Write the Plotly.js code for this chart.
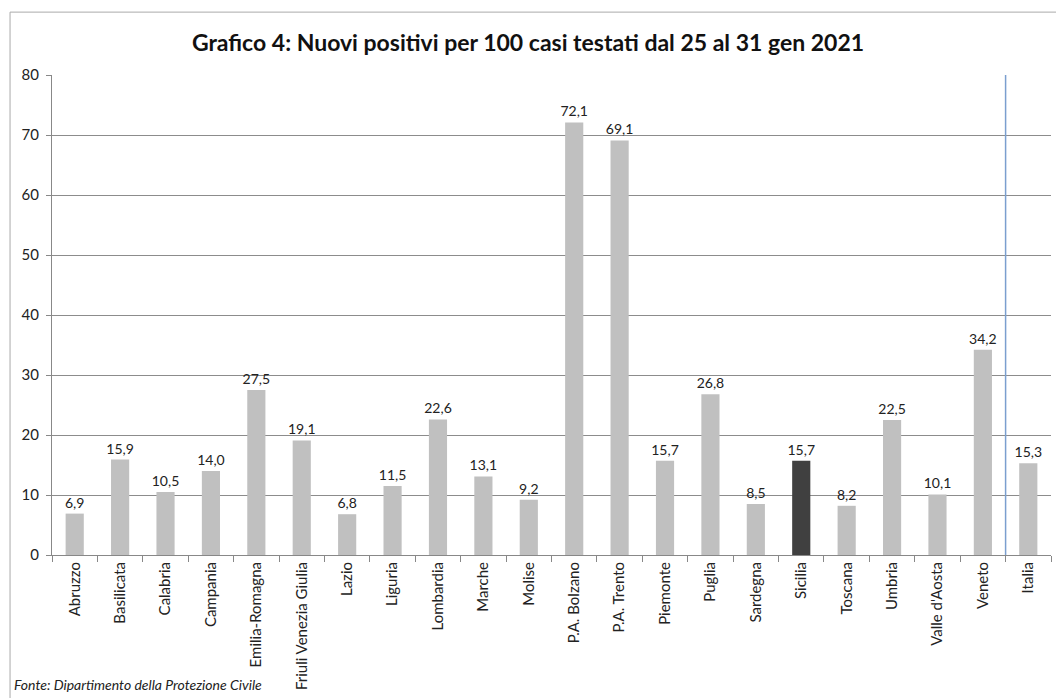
<!DOCTYPE html>
<html><head><meta charset="utf-8">
<script src="https://cdn.plot.ly/plotly-3.0.1.min.js"></script>
<style>html,body{margin:0;padding:0;background:#fff}#c{width:1056px;height:698px}</style>
</head><body><div id="c"></div>
<script>
const regions = ["Abruzzo","Basilicata","Calabria","Campania","Emilia-Romagna","Friuli Venezia Giulia","Lazio","Liguria","Lombardia","Marche","Molise","P.A. Bolzano","P.A. Trento","Piemonte","Puglia","Sardegna","Sicilia","Toscana","Umbria","Valle d'Aosta","Veneto","Italia"];
const values = [6.9,15.9,10.5,14.0,27.5,19.1,6.8,11.5,22.6,13.1,9.2,72.1,69.1,15.7,26.8,8.5,15.7,8.2,22.5,10.1,34.2,15.3];
const highlight = "Sicilia";
const colors = regions.map(r => r === highlight ? "#404040" : "#c0c0c0");
const font = "Lato, 'Open Sans', sans-serif";

Plotly.newPlot("c", [{
  type: "bar", x: regions, y: values,
  marker: {color: colors},
  text: values.map(v => v.toFixed(1).replace(".", ",")),
  textposition: "outside", cliponaxis: false, constraintext: "none",
  textfont: {family: font, size: 14, color: "#222"},
  hoverinfo: "skip"
}], {
  width: 1056, height: 698,
  margin: {l: 52, r: 5, t: 75, b: 143},
  separators: ",.",
  paper_bgcolor: "#fff", plot_bgcolor: "#fff",
  bargap: 0.6,
  showlegend: false,
  title: {text: "<b>Grafico 4: Nuovi positivi per 100 casi testati dal 25 al 31 gen 2021</b>",
    font: {family: font, size: 23, color: "#111"}, x: 0.5, xanchor: "center", y: 0.938, yanchor: "middle"},
  xaxis: {type: "category", tickangle: -90, tickfont: {family: font, size: 15, color: "#222"},
    showline: true, linecolor: "#888", linewidth: 1, ticks: "outside", ticklen: 6, tickcolor: "#888",
    tickson: "boundaries", showgrid: false, zeroline: false, fixedrange: true},
  yaxis: {range: [0, 80], dtick: 10, tickfont: {family: font, size: 15, color: "#222"},
    showline: true, linecolor: "#888", ticks: "outside", ticklen: 5, tickcolor: "#888",
    showgrid: true, gridcolor: "#8c8c8c", gridwidth: 1, zeroline: false, ticklabelstandoff: 4},
  shapes: [
    {type: "line", xref: "x", yref: "y", x0: 20.5, x1: 20.5, y0: 0, y1: 80, line: {color: "#7b9fcf", width: 1.5}},
    {type: "line", xref: "paper", yref: "paper", x0: -0.042, x1: -0.042, y0: -0.3, y1: 1.131, line: {color: "#aaa", width: 1}},
    {type: "line", xref: "paper", yref: "paper", x0: -0.042, x1: 1.01, y0: 1.131, y1: 1.131, line: {color: "#aaa", width: 1}}
  ],
  annotations: [{text: "<i>Fonte: Dipartimento della Protezione Civile</i>", xref: "paper", yref: "paper",
    x: -0.04, y: -0.292, xanchor: "left", yanchor: "bottom", showarrow: false,
    font: {family: font, size: 14, color: "#222"}}]
}, {displayModeBar: false, staticPlot: true});
</script></body></html>
